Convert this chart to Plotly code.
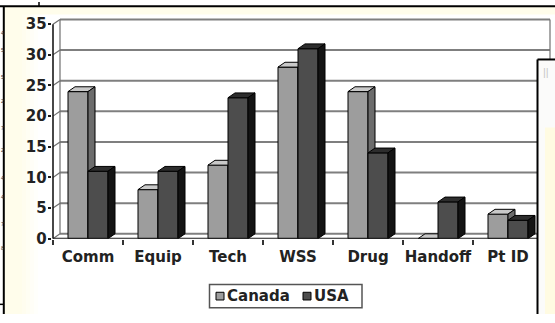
import plotly.graph_objects as go

# Survey results by category
categories = ["Comm", "Equip", "Tech", "WSS", "Drug", "Handoff", "Pt ID"]
canada = [24, 8, 12, 28, 24, 0, 4]
usa = [11, 11, 23, 31, 14, 6, 3]
y_ticks = [0, 5, 10, 15, 20, 25, 30, 35]

W, H = 555, 323
FONT = "DejaVu Sans"
CREAM = "#FFFDEB"

# pixel geometry of the chart frame
x_front = 53.0          # front edge of the value axis
cat_w = 70.0            # width of one category
y_zero = 245.0          # pixel row of value 0
unit = 222.0 / 35.0     # pixels per value unit
depth_dx = 7.0 / cat_w  # 3D depth offset (category units)
depth_dy = 5.0 / unit   # 3D depth offset (value units)
bar_w = 20.0 / cat_w

x_lo, x_hi = -0.52, 6.65
y_lo, y_hi = 0.0, 36.0


def px_x(p):
    return p / W


def px_y(p):
    return 1 - p / H


dom_x = [px_x(x_front + (x_lo + 0.5) * cat_w), px_x(x_front + (x_hi + 0.5) * cat_w)]
dom_y = [px_y(y_zero), px_y(y_zero - y_hi * unit)]

fig = go.Figure()

# back wall gridlines and side-wall diagonals
back_left = -0.5 + depth_dx
back_right = 6.5 + depth_dx
gx, gy, sx, sy = [], [], [], []
for v in y_ticks:
    gx += [back_left, back_right, None]
    gy += [v + depth_dy, v + depth_dy, None]
    sx += [-0.5, back_left, None]
    sy += [v, v + depth_dy, None]
fig.add_trace(go.Scatter(x=gx, y=gy, mode="lines", line=dict(color="#7f7f7f", width=2),
                         hoverinfo="skip", showlegend=False))
fig.add_trace(go.Scatter(x=sx + [back_left, back_left, None, back_right, back_right],
                         y=sy + [depth_dy, 35 + depth_dy, None, depth_dy, 35 + depth_dy],
                         mode="lines", line=dict(color="#6f6f6f", width=1.2),
                         hoverinfo="skip", showlegend=False))


def faces(values, offset):
    """Front, top and side polygons of 3D columns."""
    fx, fy, tx, ty, sx_, sy_ = [], [], [], [], [], []
    for i, v in enumerate(values):
        x0 = i + offset
        x1 = x0 + bar_w
        fx += [x0, x1, x1, x0, x0, None]
        fy += [0, 0, v, v, 0, None]
        tx += [x0, x0 + depth_dx, x1 + depth_dx, x1, x0, None]
        ty += [v, v + depth_dy, v + depth_dy, v, v, None]
        sx_ += [x1, x1 + depth_dx, x1 + depth_dx, x1, x1, None]
        sy_ += [0, depth_dy, v + depth_dy, v, 0, None]
    return (fx, fy), (tx, ty), (sx_, sy_)


series = [
    ("Canada", canada, -bar_w, ("#9d9d9d", "#c9c9c9", "#6c6c6c")),
    ("USA", usa, 0.0, ("#4d4d4d", "#2d2d2d", "#141414")),
]
for name, vals, off, cols in series:
    for (xs, ys), col in zip(faces(vals, off), cols):
        fig.add_trace(go.Scatter(x=xs, y=ys, mode="lines", fill="toself", fillcolor=col,
                                 line=dict(color="#000000", width=1), name=name,
                                 hoverinfo="skip", showlegend=False))

# front axis line and floor edges
fig.add_trace(go.Scatter(x=[-0.5, -0.5, None, -0.5, 6.5, back_right],
                         y=[0, 35, None, 0, 0, depth_dy],
                         mode="lines", line=dict(color="#1a1a1a", width=1.6),
                         hoverinfo="skip", showlegend=False))

tick_font = dict(family=FONT, size=15, color="#222222", weight="bold")
fig.update_layout(
    width=W, height=H,
    margin=dict(l=0, r=0, t=0, b=0),
    paper_bgcolor="#ffffff",
    plot_bgcolor="#ffffff",
    showlegend=False,
    xaxis=dict(domain=dom_x, range=[x_lo, x_hi], showgrid=False, zeroline=False,
               showline=False, tickmode="array", tickvals=list(range(len(categories))),
               ticktext=categories, ticks="", tickfont=tick_font, ticklabelstandoff=7,
               minor=dict(tickmode="array", tickvals=[i - 0.5 for i in range(len(categories) + 1)],
                          ticks="outside", ticklen=5, tickwidth=1.5, tickcolor="#333333"),
               fixedrange=True),
    yaxis=dict(domain=dom_y, range=[y_lo, y_hi], showgrid=False, zeroline=False,
               showline=False, tickmode="array", tickvals=y_ticks, ticks="outside",
               ticklen=3, tickwidth=1.5, tickcolor="#1a1a1a", tickfont=tick_font,
               ticklabelstandoff=-2, fixedrange=True),
)

shapes = []
# cream frame fading into the white chart area
shapes.append(dict(type="rect", xref="paper", yref="paper", x0=px_x(4), x1=px_x(22),
                   y0=0, y1=px_y(5), fillcolor=CREAM, line=dict(width=0), layer="below"))
for k, a in enumerate([0.8, 0.6, 0.4, 0.2]):
    shapes.append(dict(type="rect", xref="paper", yref="paper", x0=px_x(22 + 4 * k),
                       x1=px_x(26 + 4 * k), y0=0, y1=px_y(5), fillcolor=CREAM, opacity=a,
                       line=dict(width=0), layer="below"))
shapes.append(dict(type="rect", xref="paper", yref="paper", x0=px_x(4), x1=1,
                   y0=px_y(13), y1=px_y(5), fillcolor=CREAM, line=dict(width=0), layer="below"))
# window edges
shapes.append(dict(type="line", xref="paper", yref="paper", x0=0, x1=1, y0=px_y(4.5),
                   y1=px_y(4.5), line=dict(color="#000000", width=2)))
shapes.append(dict(type="line", xref="paper", yref="paper", x0=px_x(39), x1=px_x(39),
                   y0=1, y1=px_y(4.5), line=dict(color="#000000", width=1.5)))
shapes.append(dict(type="line", xref="paper", yref="paper", x0=px_x(3.8), x1=px_x(3.8),
                   y0=0, y1=px_y(4.5), line=dict(color="#000000", width=2)))
shapes.append(dict(type="line", xref="paper", yref="paper", x0=0, x1=px_x(3.8),
                   y0=px_y(313), y1=px_y(313), line=dict(color="#000000", width=1.5)))
# overlapping panel on the right (fill, then its left and top edges)
shapes.append(dict(type="rect", xref="paper", yref="paper", x0=px_x(537.5), x1=1,
                   y0=0, y1=px_y(59.5), fillcolor="#fbfbfa", line=dict(width=0)))
shapes.append(dict(type="rect", xref="paper", yref="paper", x0=px_x(545), x1=1,
                   y0=0, y1=px_y(130), fillcolor="#fffbe2", line=dict(width=0)))
shapes.append(dict(type="line", xref="paper", yref="paper", x0=px_x(537.5), x1=px_x(537.5),
                   y0=0, y1=px_y(59.5), line=dict(color="#000000", width=2)))
shapes.append(dict(type="line", xref="paper", yref="paper", x0=px_x(537.5), x1=1,
                   y0=px_y(59.5), y1=px_y(59.5), line=dict(color="#000000", width=2)))
# legend box and swatches
shapes.append(dict(type="rect", xref="paper", yref="paper", x0=px_x(209.5), x1=px_x(362),
                   y0=px_y(316.5), y1=px_y(292.5), fillcolor="#ffffff",
                   line=dict(color="#555555", width=1.5)))
swatches = [("Canada", "#9d9d9d", 216), ("USA", "#4d4d4d", 303)]
for name, col, x0 in swatches:
    shapes.append(dict(type="rect", xref="paper", yref="paper", x0=px_x(x0), x1=px_x(x0 + 8),
                       y0=px_y(308.5), y1=px_y(300.5), fillcolor=col,
                       line=dict(color="#000000", width=1)))
fig.update_layout(shapes=shapes)

annotations = []
for name, col, x0 in swatches:
    annotations.append(dict(xref="paper", yref="paper", x=px_x(x0 + 9), y=px_y(304.5),
                            xanchor="left", yanchor="middle", text=name, showarrow=False,
                            font=dict(family=FONT, size=15, color="#222222", weight="bold")))
# small glyphs of the neighbouring window on the left
for ch, yy in zip("4552724478", [32, 50, 78, 103, 130, 153, 182, 202, 230, 255]):
    annotations.append(dict(xref="paper", yref="paper", x=px_x(0.2), y=px_y(yy),
                            xanchor="left", yanchor="middle", text=ch, showarrow=False,
                            borderpad=0, font=dict(family="Liberation Sans", size=5,
                                                   color="#333333")))
annotations.append(dict(xref="paper", yref="paper", x=px_x(541), y=px_y(72), xanchor="left",
                        yanchor="middle", text="||", showarrow=False,
                        font=dict(family="Liberation Sans", size=11, color="#c8c8c8")))
fig.update_layout(annotations=annotations)

fig.write_html("out.html")
